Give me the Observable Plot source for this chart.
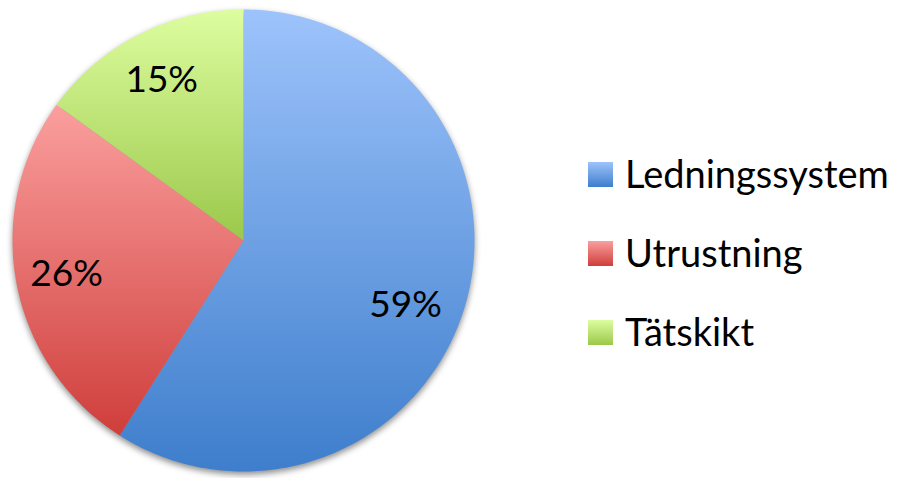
<!DOCTYPE html>
<html><head><meta charset="utf-8">
<script src="https://cdn.jsdelivr.net/npm/d3@7"></script>
<script src="https://cdn.jsdelivr.net/npm/@observablehq/plot@0.6"></script>
<style>
body{margin:0;background:#fff;font-family:Lato,sans-serif;}
#wrap{position:relative;width:901px;height:478px;overflow:hidden;}
#chart{position:absolute;left:0;top:0;}
#legend{position:absolute;left:588px;top:0;}
.row{position:absolute;left:0;display:flex;align-items:center;white-space:nowrap;height:25px;}
.sw{width:25px;height:25px;margin-right:12px;flex:none;}
.lbl{font-size:38px;line-height:25px;color:#000;position:relative;top:-1px;}
</style></head><body>
<div id="wrap"><div id="chart"></div><div id="legend"></div></div>
<script>
const categories = ["Ledningssystem", "Utrustning", "Tätskikt"];
const values = [59, 26, 15];
const percentLabels = ["59%", "26%", "15%"];
const gradTop = ["#9dc3fb", "#fa9f9e", "#ddfd9f"];
const gradBottom = ["#3e7ecc", "#cf3e3b", "#9bc84b"];

const rows = categories.map((c, i) => ({category: c, value: values[i], label: percentLabels[i], i}));
const pie = d3.pie().sort(null).value(d => d.value)(rows);

function arcRing(a0, a1) {
  const n = Math.max(2, Math.ceil((a1 - a0) / (Math.PI / 180)));
  const ring = [[0, 0]];
  for (let k = 0; k <= n; k++) {
    const a = a0 + (a1 - a0) * k / n;
    ring.push([Math.sin(a), Math.cos(a)]);
  }
  ring.push([0, 0]);
  return ring;
}
const features = pie.map(p => ({
  type: "Feature",
  properties: {category: p.data.category, fill: `url(#grad${p.data.i})`},
  geometry: {type: "Polygon", coordinates: [arcRing(p.startAngle, p.endAngle)]}
}));
const circle = {type: "Polygon", coordinates: [arcRing(0, 2 * Math.PI).slice(1, -1).concat([[0, 1]])]};

const labelR = 0.78;
const labelData = pie.map(p => {
  const m = (p.startAngle + p.endAngle) / 2;
  return {label: p.data.label, x: labelR * Math.sin(m), y: labelR * Math.cos(m), first: p.index === 0};
});

const chart = Plot.plot({
  width: 901, height: 478,
  marginLeft: 12, marginRight: 427, marginTop: 9, marginBottom: 7,
  style: {fontFamily: "Lato, sans-serif", background: "transparent"},
  projection: {type: "reflect-y", domain: circle},
  color: {type: "identity"},
  marks: [
    Plot.geo(features, {fill: d => d.properties.fill, stroke: "none",
      imageFilter: "drop-shadow(0px 3px 3px rgba(0,0,0,0.45))"}),
    Plot.text(labelData.filter(d => d.first), {x: "x", y: "y", text: "label", fontSize: 37, fill: "#000", dx: -11, dy: 14}),
    Plot.text(labelData.filter(d => !d.first), {x: "x", y: "y", text: "label", fontSize: 37, fill: "#000"})
  ]
});
const defs = d3.select(chart).insert("defs", ":first-child");
rows.forEach((r, i) => {
  const g = defs.append("linearGradient").attr("id", `grad${i}`)
    .attr("x1", 0).attr("y1", 0).attr("x2", 0).attr("y2", 1);
  g.append("stop").attr("offset", "0%").attr("stop-color", gradTop[i]);
  g.append("stop").attr("offset", "100%").attr("stop-color", gradBottom[i]);
});
document.getElementById("chart").appendChild(chart);

const legend = d3.select("#legend");
rows.forEach((r, i) => {
  const row = legend.append("div").attr("class", "row").style("top", (162 + 79 * i) + "px");
  row.append("div").attr("class", "sw")
    .style("background", `linear-gradient(to bottom, ${gradTop[i]}, ${gradBottom[i]})`);
  row.append("div").attr("class", "lbl").text(r.category);
});
</script>
</body></html>
